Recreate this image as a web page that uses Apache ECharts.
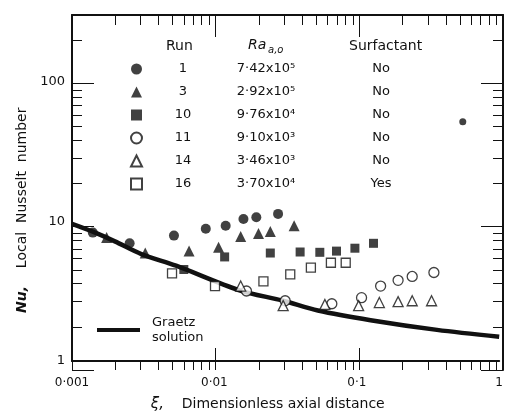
<!DOCTYPE html>
<html>
<head>
<meta charset="utf-8">
<title>Local Nusselt number</title>
<script src="https://cdn.jsdelivr.net/npm/echarts@6/dist/echarts.min.js"></script>
<style>
    html, body { margin: 0; padding: 0; background: #fff; }
    #main { width: 506px; height: 417px; }
</style>
</head>
<body>
<div id="main"></div>
<script type="text/javascript">
    // readings: [xi, Nu]
    var run1 = [[0.0014, 8.3], [0.00254, 6.96], [0.0052, 7.9], [0.0087, 8.85], [0.012, 9.3],
                [0.016, 10.4], [0.0197, 10.7], [0.028, 11.3], [0.555, 51.6]];
    var run3 = [[0.00175, 7.66], [0.00327, 5.93], [0.00664, 6.12], [0.0107, 6.53], [0.0153, 7.79],
                [0.0204, 8.17], [0.0247, 8.44], [0.0363, 9.29]];
    var run10 = [[0.0061, 4.52], [0.0118, 5.56], [0.0247, 5.93], [0.040, 6.03], [0.055, 6.0],
                 [0.072, 6.12], [0.097, 6.42], [0.131, 6.96]];
    var run11 = [[0.0168, 3.17], [0.0314, 2.70], [0.0668, 2.57], [0.108, 2.84], [0.147, 3.44],
                 [0.195, 3.78], [0.245, 4.03], [0.348, 4.30]];
    var run14 = [[0.0153, 3.44], [0.0304, 2.49], [0.0597, 2.54], [0.103, 2.49], [0.144, 2.62],
                 [0.195, 2.66], [0.245, 2.70], [0.335, 2.70]];
    var run16 = [[0.00504, 4.24], [0.0101, 3.44], [0.0221, 3.72], [0.0341, 4.17], [0.0476, 4.66],
                 [0.0658, 5.05], [0.0836, 5.05]];
    var graetz = [[0.001, 9.6], [0.0014, 8.44], [0.002, 7.19], [0.00307, 5.83], [0.00538, 4.81],
                  [0.0148, 3.22], [0.0304, 2.70], [0.0533, 2.30], [0.125, 1.96], [0.366, 1.67], [1, 1.49]];

    var runs = ['1', '3', '10', '11', '14', '16'];
    var raValues = ['7·42x10⁵', '2·92x10⁵', '9·76x10⁴', '9·10x10³', '3·46x10³', '3·70x10⁴'];
    var surfactant = ['No', 'No', 'No', 'No', 'No', 'Yes'];

    var xLabels = [0.001, 0.01, 0.1, 1];
    var yLabels = [1, 10, 100];

    // tick marks: decades long, 2..9 short (kept in log10 units for the tick-only axes)
    var xMajor = xLabels.map(Math.log10), yMajor = yLabels.map(Math.log10);
    var xMinor = [], yMinor = [];
    [0.001, 0.01, 0.1].forEach(function (d) {
        for (var k = 2; k <= 9; k++) xMinor.push(Math.log10(k * d));
    });
    [1, 10].forEach(function (d) {
        for (var k = 2; k <= 9; k++) yMinor.push(Math.log10(k * d));
    });
    yMinor.push(Math.log10(200));

    var font = 'DejaVu Sans';
    var black = '#111';
    var X_MIN = 0.001, X_MAX = 1, Y_MIN = 1, Y_MAX = 300;
    var plotRect = { left: 72, right: 3, top: 15, bottom: 47 };

    // tick-only axes drawn on overlaid grids
    function tickAxis(grid, pos, dim, ticks, len, line) {
        var isX = dim === 'x';
        return {
            type: 'value', gridIndex: grid, position: pos,
            min: Math.log10(isX ? X_MIN : Y_MIN), max: Math.log10(isX ? X_MAX : Y_MAX),
            axisLine: { show: line, onZero: false, lineStyle: { color: black, width: 2 } },
            axisTick: { show: true, inside: true, length: len, customValues: ticks,
                        lineStyle: { color: black, width: 1 } },
            axisLabel: { show: false },
            splitLine: { show: false }
        };
    }

    function scatter(name, data, symbol, size, filled) {
        return {
            name: name, type: 'scatter', xAxisIndex: 0, yAxisIndex: 0,
            symbol: symbol, symbolSize: size, z: 3,
            itemStyle: filled ? { color: black } : { color: '#fff', borderColor: black, borderWidth: 1.3 },
            data: data
        };
    }

    var myChart = echarts.init(document.getElementById('main'));

    var option = {
        backgroundColor: '#fff',
        animation: false,
        grid: [
            Object.assign({}, plotRect),
            Object.assign({}, plotRect),
            Object.assign({}, plotRect)
        ],
        xAxis: [
            {
                type: 'log', logBase: 10, min: X_MIN, max: X_MAX, gridIndex: 0, position: 'bottom',
                axisLine: { show: true, onZero: false, lineStyle: { color: black, width: 2 } },
                axisTick: { show: false },
                axisLabel: {
                    customValues: xLabels, color: black, fontFamily: font, fontSize: 12, margin: 16,
                    formatter: function (v) { return String(v).replace('.', '·'); }
                },
                splitLine: { show: false },
                name: '{g|ξ,}    Dimensionless axial distance        ',
                nameLocation: 'middle', nameGap: 36,
                nameTextStyle: { color: black, fontFamily: font, fontSize: 14,
                                 rich: { g: { fontFamily: font, fontSize: 15, fontStyle: 'italic', color: black } } }
            },
            tickAxis(1, 'bottom', 'x', xMajor, 22, false),
            tickAxis(1, 'top', 'x', xMajor, 22, true),
            tickAxis(2, 'bottom', 'x', xMinor, 10, false),
            tickAxis(2, 'top', 'x', xMinor, 10, false)
        ],
        yAxis: [
            {
                type: 'log', logBase: 10, min: Y_MIN, max: Y_MAX, gridIndex: 0, position: 'left',
                axisLine: { show: true, onZero: false, lineStyle: { color: black, width: 2 } },
                axisTick: { show: false },
                axisLabel: { customValues: yLabels, color: black, fontFamily: font, fontSize: 13, margin: 7 },
                splitLine: { show: false },
                name: '{i|Nu,}    Local  Nusselt  number          ',
                nameLocation: 'middle', nameGap: 42, nameRotate: 90,
                nameTextStyle: { color: black, fontFamily: font, fontSize: 14,
                                 rich: { i: { fontFamily: font, fontSize: 14, fontStyle: 'italic', fontWeight: 'bold', color: black } } }
            },
            tickAxis(1, 'left', 'y', yMajor, 22, false),
            tickAxis(1, 'right', 'y', yMajor, 22, true),
            tickAxis(2, 'left', 'y', yMinor, 10, false),
            tickAxis(2, 'right', 'y', yMinor, 10, false)
        ],
        legend: [{
            data: runs, orient: 'vertical', left: 125, top: 57,
            itemWidth: 11, itemHeight: 11, itemGap: 9, selectedMode: false,
            formatter: function (name) {
                var i = runs.indexOf(name);
                return '{a|' + name + '}{b|' + raValues[i] + '}{c|' + surfactant[i] + '}';
            },
            textStyle: {
                color: black, fontFamily: font, fontSize: 13, lineHeight: 14,
                rich: {
                    a: { width: 72, align: 'center', fontFamily: font, fontSize: 13, color: black },
                    b: { width: 94, align: 'center', fontFamily: font, fontSize: 13, color: black },
                    c: { width: 136, align: 'center', fontFamily: font, fontSize: 13, color: black }
                }
            }
        }, {
            data: ['Graetz solution'], left: 92, top: 310, icon: 'rect',
            itemWidth: 43, itemHeight: 4, selectedMode: false,
            formatter: 'Graetz\nsolution',
            textStyle: { color: black, fontFamily: font, fontSize: 13, lineHeight: 15, padding: [0, 0, 0, 7] }
        }],
        graphic: [
            { type: 'text', left: 166, top: 39, style: { text: 'Run', font: '14px "DejaVu Sans"', fill: black } },
            { type: 'text', left: 248, top: 38, style: { text: 'Ra', font: 'italic 14px "DejaVu Sans"', fill: black } },
            { type: 'text', left: 268, top: 45, style: { text: 'a,o', font: 'italic 10px "DejaVu Sans"', fill: black } },
            { type: 'text', left: 349, top: 39, style: { text: 'Surfactant', font: '14px "DejaVu Sans"', fill: black } }
        ],
        series: [
            {
                name: 'Graetz solution', type: 'line', xAxisIndex: 0, yAxisIndex: 0,
                smooth: 0.3, showSymbol: false, z: 2,
                lineStyle: { color: black, width: 4.5 },
                itemStyle: { color: black },
                data: graetz
            },
            scatter('1', run1.map(function (p, i) {
                // the far point is drawn smaller in the figure
                return i === run1.length - 1 ? { value: p, symbolSize: 7 } : p;
            }), 'circle', 10, true),
            scatter('3', run3, 'triangle', 11, true),
            scatter('10', run10, 'rect', 9, true),
            scatter('11', run11, 'circle', 10, false),
            scatter('14', run14, 'triangle', 10, false),
            scatter('16', run16, 'rect', 9, false)
        ]
    };

    myChart.setOption(option);
</script>
</body>
</html>
